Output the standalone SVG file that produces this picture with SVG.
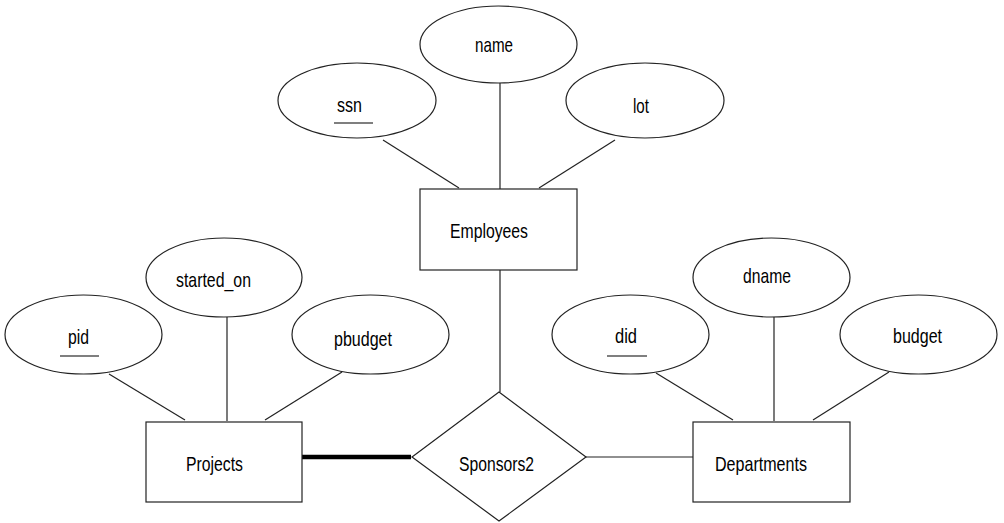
<svg xmlns="http://www.w3.org/2000/svg" width="1004" height="523" viewBox="0 0 1004 523">
<style>
.s{fill:#fff;stroke:#222;stroke-width:1.2}
.t{font-family:"Liberation Sans",Arial,sans-serif;font-size:21px;fill:#000}
.c line{stroke:#222;stroke-width:1.2}
.u{stroke:#000;stroke-width:1.2}
</style>
<rect width="1004" height="523" fill="#fff"/>
<g class="c" id="connectors">
<line x1="383" y1="140" x2="459" y2="188"/>
<line x1="500" y1="83" x2="500" y2="189"/>
<line x1="615" y1="140" x2="539" y2="188"/>
<line x1="500" y1="270" x2="500" y2="392"/>
<line x1="109" y1="374" x2="185" y2="420"/>
<line x1="227" y1="317" x2="227" y2="421"/>
<line x1="342" y1="372" x2="265" y2="420"/>
<line x1="656" y1="373" x2="733" y2="420"/>
<line x1="774" y1="317" x2="774" y2="421"/>
<line x1="889" y1="372" x2="813" y2="420"/>
<line x1="302" y1="457" x2="411" y2="457" style="stroke:#000;stroke-width:4.5"/>
<line x1="586" y1="457" x2="693" y2="457"/>
</g>
<g id="name"><ellipse class="s" cx="498.5" cy="44.5" rx="78.5" ry="38.5"/><text class="t" x="475" y="52" textLength="38" lengthAdjust="spacingAndGlyphs">name</text></g>
<g id="ssn"><ellipse class="s" cx="357" cy="100.5" rx="79" ry="37.5"/><text class="t" x="337" y="112" textLength="25" lengthAdjust="spacingAndGlyphs">ssn</text><line class="u" x1="334" y1="123" x2="373" y2="123"/></g>
<g id="lot"><ellipse class="s" cx="645" cy="100.5" rx="79" ry="37.5"/><text class="t" x="633" y="113" textLength="16" lengthAdjust="spacingAndGlyphs">lot</text></g>
<g id="employees"><rect class="s" x="420" y="189" width="157" height="81"/><text class="t" x="450" y="238" textLength="78" lengthAdjust="spacingAndGlyphs">Employees</text></g>
<g id="started_on"><ellipse class="s" cx="224" cy="277.5" rx="78" ry="39.5"/><text class="t" x="176" y="287" textLength="75" lengthAdjust="spacingAndGlyphs">started_on</text></g>
<g id="pid"><ellipse class="s" cx="83.5" cy="334.5" rx="78.5" ry="39.5"/><text class="t" x="68" y="344" textLength="21" lengthAdjust="spacingAndGlyphs">pid</text><line class="u" x1="60" y1="356" x2="99" y2="356"/></g>
<g id="pbudget"><ellipse class="s" cx="370.5" cy="334.5" rx="78.5" ry="39.5"/><text class="t" x="334" y="346" textLength="58" lengthAdjust="spacingAndGlyphs">pbudget</text></g>
<g id="projects"><rect class="s" x="146" y="422" width="156" height="80"/><text class="t" x="186" y="471" textLength="57" lengthAdjust="spacingAndGlyphs">Projects</text></g>
<g id="sponsors2"><polygon class="s" points="499,392 586,457 499,521 412,457"/><text class="t" x="459" y="471" textLength="75" lengthAdjust="spacingAndGlyphs">Sponsors2</text></g>
<g id="departments"><rect class="s" x="693" y="422" width="157" height="80"/><text class="t" x="715" y="471" textLength="92" lengthAdjust="spacingAndGlyphs">Departments</text></g>
<g id="did"><ellipse class="s" cx="630.5" cy="334.5" rx="78.5" ry="39.5"/><text class="t" x="615" y="343" textLength="22" lengthAdjust="spacingAndGlyphs">did</text><line class="u" x1="607" y1="356" x2="647" y2="356"/></g>
<g id="dname"><ellipse class="s" cx="771.5" cy="277.5" rx="78.5" ry="39.5"/><text class="t" x="743" y="283" textLength="48" lengthAdjust="spacingAndGlyphs">dname</text></g>
<g id="budget"><ellipse class="s" cx="918.5" cy="334.5" rx="78.5" ry="39.5"/><text class="t" x="893" y="343" textLength="49" lengthAdjust="spacingAndGlyphs">budget</text></g>
</svg>
